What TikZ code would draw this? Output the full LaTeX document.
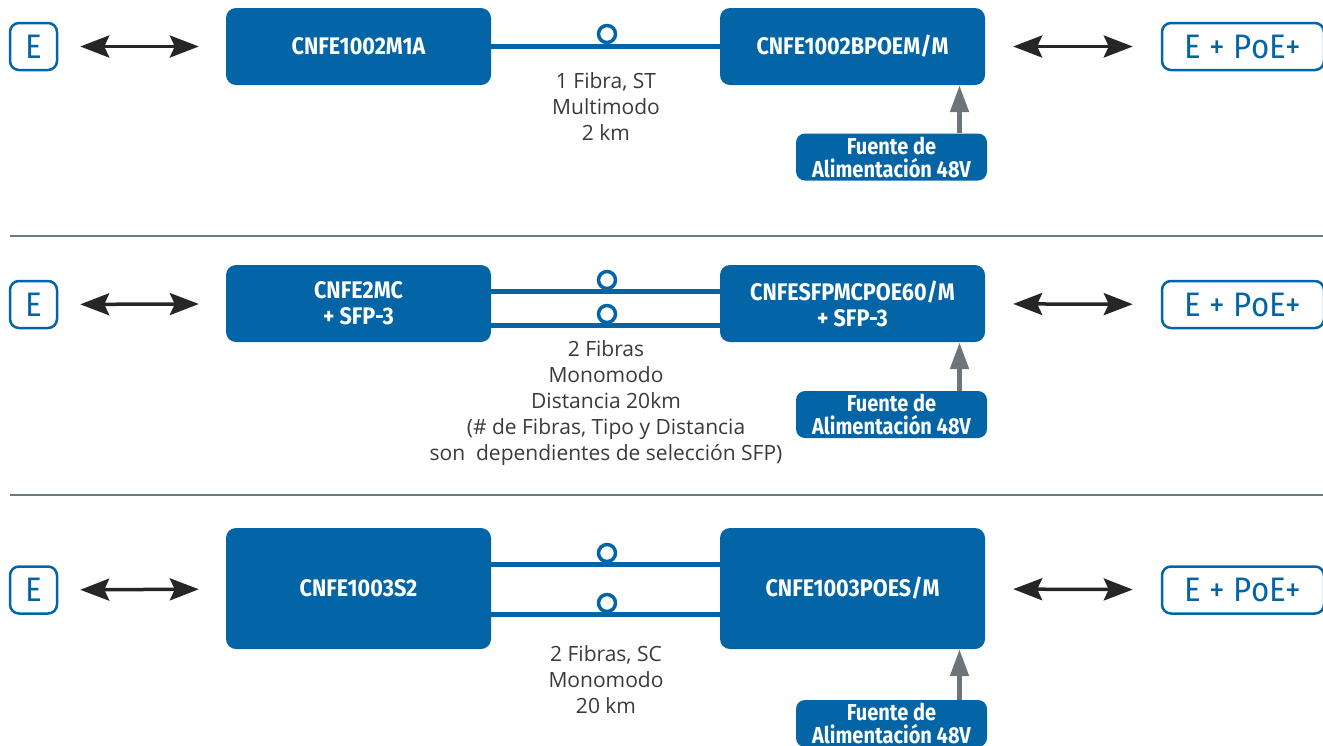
\documentclass[tikz,border=0pt]{standalone}
\usepackage{fontspec}
\setmainfont{Open Sans}
\newfontfamily\condfont[FakeStretch=0.9]{Fira Sans}
\newfontfamily\psufont[FakeStretch=0.87]{Fira Sans}
\newfontfamily\portfont[FakeStretch=0.92]{Fira Sans}
\usetikzlibrary{positioning,calc,arrows.meta}

\definecolor{cnblue}{RGB}{4,101,166}
\definecolor{feedgray}{RGB}{108,117,122}
\definecolor{txtgray}{RGB}{58,58,58}
\definecolor{rulegray}{RGB}{110,122,130}

\tikzset{
  unit/.style={rectangle, rounded corners=10pt, fill=cnblue, text=white,
    minimum width=265pt, minimum height=77pt, inner sep=0pt, align=center,
    font=\condfont\bfseries\fontsize{24}{26}\selectfont},
  port/.style={rectangle, rounded corners=9pt, draw=cnblue, line width=2.5pt,
    text=cnblue, minimum height=47pt, minimum width=47pt, inner sep=0pt,
    font=\portfont\fontsize{34}{34}\selectfont},
  psu/.style={rectangle, rounded corners=9pt, fill=cnblue, text=white,
    minimum width=191pt, minimum height=47pt, inner sep=0pt, align=center,
    font=\psufont\bfseries\fontsize{23}{23}\selectfont},
  ring/.style={circle, draw=cnblue, line width=3.5pt, fill=white,
    minimum size=17pt, inner sep=0pt},
  fiber/.style={draw=cnblue, line width=5pt},
  duplex/.style={draw=black!85, line width=3.5pt, shorten <=22pt, shorten >=27pt,
    {Stealth[length=29pt,width=22pt,inset=5pt]}-{Stealth[length=29pt,width=22pt,inset=5pt]}},
  feed/.style={draw=feedgray, line width=5pt, -{Triangle[length=27pt,width=18pt]}},
  spec/.style={align=center, text=txtgray, font=\fontsize{21}{26}\selectfont},
  rule/.style={draw=rulegray, line width=1.5pt}
}

\begin{document}
\begin{tikzpicture}[x=1pt, y=-1pt]
    \path[use as bounding box, clip] (0,0) rectangle (1323,745);

    % Enlace 1: multimodo ST
    \node[port] (e1) at (33.5,46.5) {E};
    \node[unit] (a1) at (358.5,46.5) {CNFE1002M1A};
    \node[unit] (b1) at (852.5,46.5) {CNFE1002BPOEM/M};
    \node[port, minimum width=162pt] (p1) at (1243,46.5) {E + PoE+};
    \node[psu] (s1) at (891.5,157) {Fuente de\\Alimentación 48V};
    \draw[fiber] (a1.east) -- (b1.west);
    \node[ring] (o1) at (607,34) {};
    \node[spec] (t1) at (606,107) {1 Fibra, ST\\Multimodo\\2 km};
    \draw[duplex] (e1) -- (a1);
    \draw[duplex, shorten <=28pt, shorten >=28pt] (b1) -- (p1);
    \draw[feed] ([xshift=68pt]s1.north) -- ([xshift=68pt]s1.north |- b1.south);

    \draw[rule] (10,236) -- (1323,236);

    % Enlace 2: SFP
    \node[port] (e2) at (33.5,304.5) {E};
    \node[unit] (a2) at (358.5,303.5) {CNFE2MC\\+ SFP-3};
    \node[unit] (b2) at (852.5,303.5) {CNFESFPMCPOE60/M\\+ SFP-3};
    \node[port, minimum width=162pt] (p2) at (1243,304.5) {E + PoE+};
    \node[psu] (s2) at (891.5,414.5) {Fuente de\\Alimentación 48V};
    \draw[fiber] ([yshift=12.5pt]a2.east) -- ([yshift=12.5pt]b2.west);
    \draw[fiber] ([yshift=-21.5pt]a2.east) -- ([yshift=-21.5pt]b2.west);
    \node[ring] (o2) at (607,280) {};
    \node[ring] (o3) at (607,314) {};
    \node[spec] (t2) at (606,403) {2 Fibras\\Monomodo\\Distancia 20km\\(\# de Fibras, Tipo y Distancia\\son\ \ dependientes de selección SFP)};
    \draw[duplex] (e2) -- (a2);
    \draw[duplex, shorten <=28pt, shorten >=28pt] (b2) -- (p2);
    \draw[feed] ([xshift=68pt]s2.north) -- ([xshift=68pt]s2.north |- b2.south);

    \draw[rule] (10,495) -- (1323,495);

    % Enlace 3: monomodo SC
    \node[port] (e3) at (33.5,590) {E};
    \node[unit, minimum height=121pt] (a3) at (358.5,588.5) {CNFE1003S2};
    \node[unit, minimum height=121pt] (b3) at (852.5,588.5) {CNFE1003POES/M};
    \node[port, minimum width=162pt] (p3) at (1243,590) {E + PoE+};
    \node[psu] (s3) at (891.5,723.5) {Fuente de\\Alimentación 48V};
    \draw[fiber] ([yshift=24.5pt]a3.east) -- ([yshift=24.5pt]b3.west);
    \draw[fiber] ([yshift=-25.5pt]a3.east) -- ([yshift=-25.5pt]b3.west);
    \node[ring] (o4) at (607,553) {};
    \node[ring] (o5) at (607,603) {};
    \node[spec] (t3) at (606,680) {2 Fibras, SC\\Monomodo\\20 km};
    \draw[duplex] (e3) -- (a3);
    \draw[duplex, shorten <=28pt, shorten >=28pt] (b3) -- (p3);
    \draw[feed] ([xshift=68pt]s3.north) -- ([xshift=68pt]s3.north |- b3.south);
\end{tikzpicture}
\end{document}
